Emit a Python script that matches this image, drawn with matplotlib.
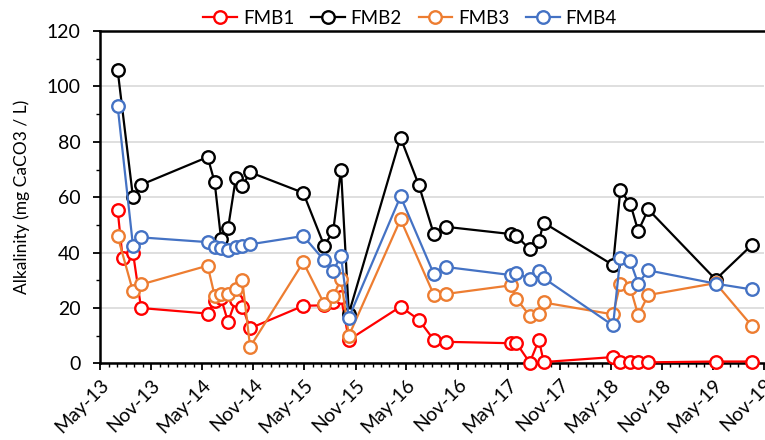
import numpy as np
import pandas as pd
import matplotlib as mpl
mpl.use('Agg')
import matplotlib.pyplot as plt
import matplotlib.dates as mdates

plt.rcParams['font.family'] = ['Lato', 'DejaVu Sans']

# sampling dates shared by all wells (nan = not sampled at that well)
dates = pd.to_datetime([
    '2013-07-03', '2013-07-21', '2013-08-27', '2013-09-25',
    '2014-05-21', '2014-06-15', '2014-07-08', '2014-08-02', '2014-08-30', '2014-09-22', '2014-10-20',
    '2015-04-28', '2015-07-12', '2015-08-13', '2015-09-10', '2015-10-08',
    '2016-04-10', '2016-06-14', '2016-08-07', '2016-09-21',
    '2017-05-10', '2017-05-29', '2017-07-16', '2017-08-18', '2017-09-04',
    '2018-05-10', '2018-06-05', '2018-07-11', '2018-08-08', '2018-09-13',
    '2019-05-12', '2019-09-19',
])
nan = np.nan
fmb1 = [55.5, 38, 40, 20,
        18, 22.5, 23.5, 15, 23, 20.5, 12.7,
        20.8, 21, 22, 24, 8.5,
        20.5, 15.8, 8.5, 7.8,
        7.3, 7.4, 0.3, 8.5, 0.5,
        2.3, 0.5, 0.4, 0.4, 0.4,
        0.7, 0.7]
fmb2 = [106, nan, 60, 64.5,
        74.5, 65.5, 45, 48.8, 67, 64, 69,
        61.6, 42.5, 47.7, 70, 18,
        81.5, 64.5, 46.7, 49.3,
        46.7, 46, 41.3, 44.3, 50.8,
        35.5, 62.5, 57.6, 47.8, 55.6,
        30.3, 42.8]
fmb3 = [46, nan, 26, 28.5,
        35.3, 24.5, 25, 25, 27, 30, 6,
        36.5, 21.5, 24.2, 30.5, 10,
        52, nan, 24.8, 25.1,
        28.2, 23.4, 17.2, 17.7, 22,
        17.7, 28.8, 27.3, 17.4, 24.7,
        29, 13.5]
fmb4 = [93, nan, 42.5, 45.5,
        43.8, 42, 41.5, 41, 42, 42.3, 43,
        46, 37.2, 33.5, 38.8, 16.5,
        60.3, nan, 32.3, 34.8,
        31.9, 32.5, 30.6, 33.5, 30.8,
        13.7, 38, 36.8, 28.8, 33.6,
        28.8, 26.7]

series = [('FMB1', fmb1, '#FF0000'),
          ('FMB2', fmb2, '#000000'),
          ('FMB3', fmb3, '#ED7D31'),
          ('FMB4', fmb4, '#4472C4')]

fig = plt.figure(figsize=(7.65, 4.4), dpi=100)
ax = fig.add_axes([0.1307, 0.174, 0.868, 0.7555])

for name, vals, col in series:
    v = np.array(vals, dtype=float)
    ok = ~np.isnan(v)
    ax.plot(dates[ok], v[ok], color=col, lw=1.6, marker='o', ms=9,
            mfc='white', mec=col, mew=1.7, label=name, clip_on=False, zorder=3)

ax.set_ylim(0, 120)
ax.set_yticks(np.arange(0, 121, 20))
ax.set_yticks(np.arange(0, 121, 10), minor=True)
ax.set_xlim(pd.Timestamp('2013-05-01'), pd.Timestamp('2019-11-01'))
ax.xaxis.set_major_locator(mdates.MonthLocator(bymonth=[5, 11]))
ax.xaxis.set_minor_locator(mdates.MonthLocator())
ax.xaxis.set_major_formatter(mdates.DateFormatter('%b-%y'))

ax.grid(axis='y', color='#d9d9d9', lw=1.2)
ax.set_axisbelow(True)
for s in ['left', 'bottom', 'top']:
    ax.spines[s].set_linewidth(1.8)
ax.spines['right'].set_visible(False)

ax.tick_params(axis='both', which='major', direction='out', length=5, width=1.3,
               labelsize=14)
ax.tick_params(axis='y', which='major', pad=9)
ax.tick_params(axis='x', which='major', pad=4)
ax.tick_params(axis='both', which='minor', direction='out', length=3, width=1.0)
plt.setp(ax.get_xticklabels(), rotation=45, ha='right', rotation_mode='anchor')

ax.set_ylabel('Alkalinity (mg CaCO3 / L)', fontsize=12.5, labelpad=12)

ax.legend(loc='lower center', bbox_to_anchor=(0.467, 0.99), ncol=4, frameon=False,
          fontsize=13.5, handlelength=1.8, columnspacing=0.9, handletextpad=0.3,
          borderaxespad=0)

fig.savefig('out.png', dpi=100)
